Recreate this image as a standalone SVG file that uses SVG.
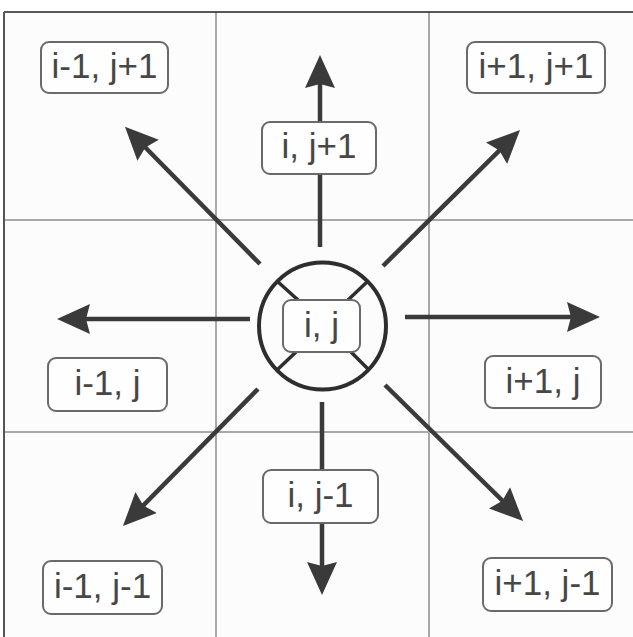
<svg xmlns="http://www.w3.org/2000/svg" width="633" height="637" viewBox="0 0 633 637">
  <style>
    .grid { stroke: #a9a9a9; stroke-width: 2; fill: none; }
    .box { fill: #fefefe; stroke: #6a6a6a; stroke-width: 2; }
    .lbl { font-family: "Liberation Sans", Arial, sans-serif; font-size: 35px; fill: #474747; text-anchor: middle; }
    .arrow { stroke: #3a3a3a; stroke-width: 4.5; fill: none; marker-end: url(#head); }
    .ring { stroke: #2e2e2e; stroke-width: 4; fill: none; }
    .spoke { stroke: #2e2e2e; stroke-width: 3.5; }
  </style>
  <defs>
    <marker id="head" markerUnits="userSpaceOnUse" markerWidth="34" markerHeight="32" viewBox="0 0 34 32" refX="13" refY="16" orient="auto">
      <path d="M0,1 L33,16 L0,31 L4,16 Z" fill="#3a3a3a"/>
    </marker>
  </defs>
  <rect x="0" y="0" width="633" height="637" fill="#ffffff"/>
  <rect x="4" y="12" width="629" height="625" fill="#fcfcfc"/>
  <g id="grid">
    <line class="grid" x1="216" y1="12" x2="216" y2="637"/>
    <line class="grid" x1="429" y1="12" x2="429" y2="637"/>
    <line class="grid" x1="4" y1="220" x2="633" y2="220"/>
    <line class="grid" x1="4" y1="432" x2="633" y2="432"/>
    <line x1="4" y1="12" x2="633" y2="12" stroke="#222" stroke-width="1.5"/>
    <line x1="4" y1="12" x2="4" y2="637" stroke="#555" stroke-width="2"/>
  </g>
  <g id="connectors">
    <line class="arrow" x1="320" y1="247" x2="320" y2="75"/>
    <line class="arrow" x1="322" y1="402" x2="322" y2="575"/>
    <line class="arrow" x1="250" y1="319" x2="77" y2="319"/>
    <line class="arrow" x1="405" y1="317" x2="580" y2="317"/>
    <line class="arrow" x1="260" y1="264" x2="139" y2="141"/>
    <line class="arrow" x1="383" y1="266" x2="505.8" y2="144.1"/>
    <line class="arrow" x1="258" y1="389" x2="137" y2="511.8"/>
    <line class="arrow" x1="385" y1="385" x2="508.8" y2="507"/>
  </g>
  <g id="n-i-j">
    <circle class="ring" cx="322.5" cy="326" r="63.5"/>
    <line class="spoke" x1="277" y1="281" x2="298" y2="300"/>
    <line class="spoke" x1="368" y1="281" x2="348" y2="300"/>
    <line class="spoke" x1="277" y1="370" x2="296" y2="352"/>
    <line class="spoke" x1="369" y1="370" x2="351" y2="352"/>
    <rect class="box" x="283" y="300" width="77" height="52" rx="8"/>
    <text class="lbl" x="321.5" y="337">i, j</text>
  </g>
  <g id="n-im1-jp1">
    <rect class="box" x="41" y="42" width="127" height="51" rx="8"/>
    <text class="lbl" x="104.5" y="78">i-1, j+1</text>
  </g>
  <g id="n-ip1-jp1">
    <rect class="box" x="467" y="42" width="138" height="51" rx="8"/>
    <text class="lbl" x="536" y="78">i+1, j+1</text>
  </g>
  <g id="n-i-jp1">
    <rect class="box" x="262" y="122" width="114" height="52" rx="8"/>
    <text class="lbl" x="319" y="158">i, j+1</text>
  </g>
  <g id="n-im1-j">
    <rect class="box" x="48" y="358" width="119" height="53" rx="8"/>
    <text class="lbl" x="107.5" y="395">i-1, j</text>
  </g>
  <g id="n-ip1-j">
    <rect class="box" x="485" y="356" width="116" height="52" rx="8"/>
    <text class="lbl" x="543" y="393">i+1, j</text>
  </g>
  <g id="n-i-jm1">
    <rect class="box" x="263" y="470" width="115" height="53" rx="8"/>
    <text class="lbl" x="320.5" y="507">i, j-1</text>
  </g>
  <g id="n-im1-jm1">
    <rect class="box" x="43" y="561" width="119" height="53" rx="8"/>
    <text class="lbl" x="102.5" y="598">i-1, j-1</text>
  </g>
  <g id="n-ip1-jm1">
    <rect class="box" x="483" y="558" width="129" height="53" rx="8"/>
    <text class="lbl" x="547.5" y="595">i+1, j-1</text>
  </g>
</svg>
